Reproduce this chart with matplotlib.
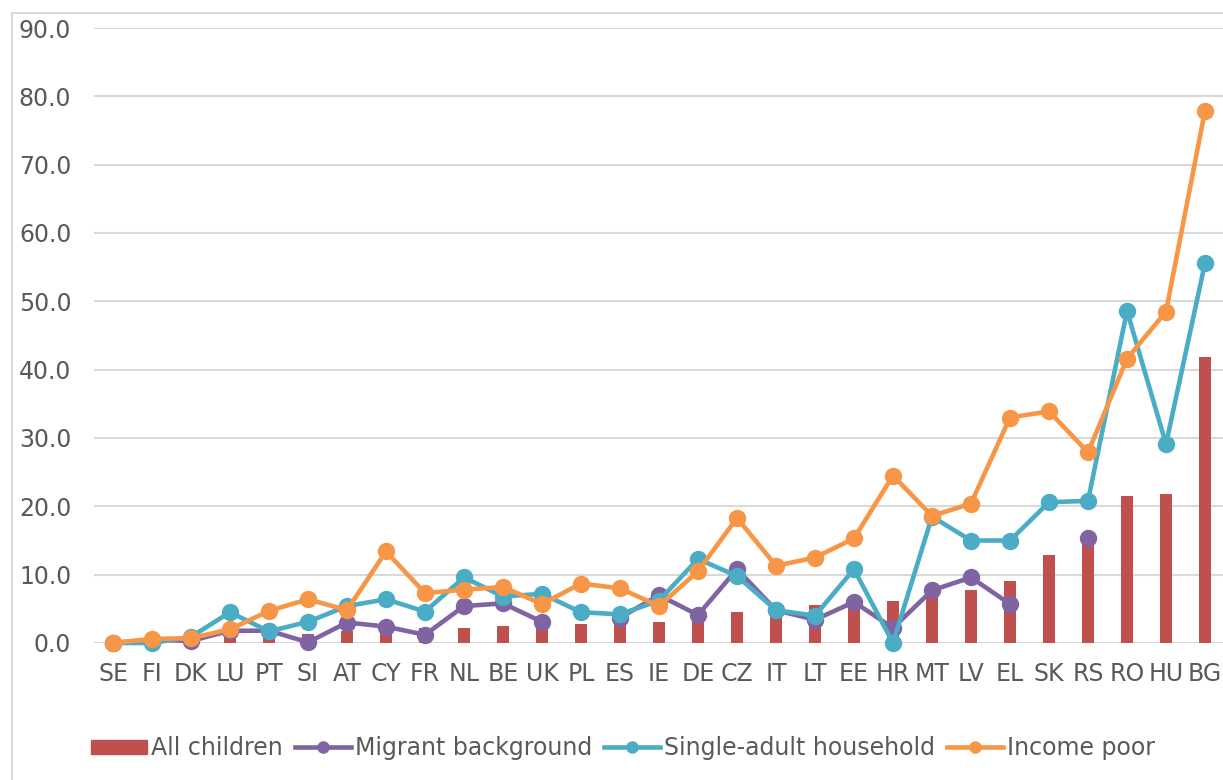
import numpy as np
import matplotlib.pyplot as plt
from matplotlib.patches import Rectangle
from matplotlib.lines import Line2D

countries = ['SE', 'FI', 'DK', 'LU', 'PT', 'SI', 'AT', 'CY', 'FR', 'NL', 'BE', 'UK', 'PL', 'ES', 'IE',
             'DE', 'CZ', 'IT', 'LT', 'EE', 'HR', 'MT', 'LV', 'EL', 'SK', 'RS', 'RO', 'HU', 'BG']

all_children = [0.1, 0.2, 0.4, 1.7, 1.5, 1.3, 1.8, 1.9, 2.2, 2.2, 2.5, 2.9, 2.8, 3.2, 3.1,
                3.7, 4.6, 5.1, 5.6, 6.2, 6.1, 7.4, 7.8, 9.1, 12.9, 15.0, 21.5, 21.8, 41.8]
nan = np.nan
migrant = [0.0, 0.5, 0.3, 1.8, 1.8, 0.1, 3.0, 2.4, 1.2, 5.4, 5.8, 3.1, nan, 3.7, 7.0,
           4.1, 10.8, 4.8, 3.4, 6.0, 2.2, 7.7, 9.6, 5.7, nan, 15.3, nan, nan, nan]
single_adult = [0.0, 0.0, 0.9, 4.5, 1.7, 3.1, 5.4, 6.4, 4.6, 9.6, 6.8, 7.2, 4.5, 4.2, 6.2,
                12.3, 9.8, 4.8, 4.0, 10.8, 0.0, 18.5, 15.0, 15.0, 20.6, 20.8, 48.6, 29.1, 55.6]
income_poor = [0.0, 0.6, 0.7, 2.0, 4.7, 6.4, 4.8, 13.4, 7.3, 7.8, 8.2, 5.7, 8.7, 8.0, 5.4,
               10.5, 18.3, 11.3, 12.5, 15.3, 24.5, 18.6, 20.4, 33.0, 33.9, 27.9, 41.6, 48.5, 77.9]

RED = '#c0504d'
PURPLE = '#8064a2'
TEAL = '#4bacc6'
ORANGE = '#f79646'
TXT = '#595959'
GRID = '#d9d9d9'

W, H = 1223, 780
fig = plt.figure(figsize=(W / 100, H / 100), dpi=100)
ax = fig.add_axes([93.5 / W, 1 - 643 / H, 1131 / W, 615 / H])

x = np.arange(len(countries))
ax.bar(x, all_children, width=0.31, color=RED, zorder=2)
for vals, col in [(migrant, PURPLE), (single_adult, TEAL), (income_poor, ORANGE)]:
    ax.plot(x, vals, color=col, lw=3.3, marker='o', ms=11.5, zorder=3, clip_on=False)

ax.set_xlim(-0.5, len(countries) - 0.5)
ax.set_ylim(0, 90)
ax.set_yticks(np.arange(0, 91, 10))
ax.set_yticklabels([f'{v:.1f}' for v in np.arange(0, 91, 10)])
ax.set_xticks(x)
ax.set_xticklabels(countries)
ax.tick_params(axis='both', length=0, labelsize=17, colors=TXT)
ax.tick_params(axis='x', pad=14)
ax.tick_params(axis='y', pad=16)
ax.grid(axis='y', color=GRID, lw=1.5, zorder=0)
ax.set_axisbelow(True)
for s in ax.spines.values():
    s.set_visible(False)

# outer chart border
fig.patches.append(Rectangle((12 / W, -0.1), 1.2, 1 - 13 / H + 0.1, transform=fig.transFigure,
                             fill=False, edgecolor=GRID, lw=1.5))

handles = [Rectangle((0, 0), 1, 1, color=RED),
           Line2D([], [], color=PURPLE, lw=3.3, marker='o', ms=8),
           Line2D([], [], color=TEAL, lw=3.3, marker='o', ms=8),
           Line2D([], [], color=ORANGE, lw=3.3, marker='o', ms=8)]
labels = ['All children', 'Migrant background', 'Single-adult household', 'Income poor']
leg = fig.legend(handles, labels, loc='center left', bbox_to_anchor=(70 / W, 1 - 748 / H), ncol=4,
                 frameon=False, fontsize=17, handlelength=2.35, handletextpad=0.2,
                 columnspacing=0.5, handleheight=0.55)
for t in leg.get_texts():
    t.set_color(TXT)

fig.savefig('out.png', dpi=100)
